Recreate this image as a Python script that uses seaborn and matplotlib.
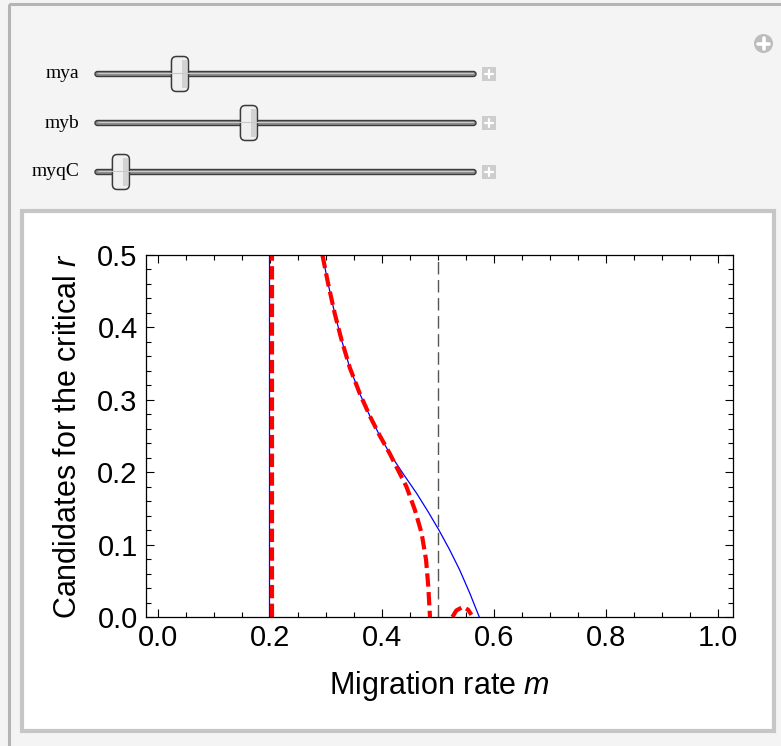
import numpy as np
import pandas as pd
import matplotlib.pyplot as plt
import seaborn as sns
from matplotlib.patches import Rectangle, FancyBboxPatch, Circle

# ---- control panel: slider names and thumb positions (fraction of track)
slider_names = ["mya", "myb", "myqC"]
slider_pos = [0.223, 0.404, 0.068]

# ---- curves
# solid blue: vertical root + decreasing branch
blue_vert_m = [0.198, 0.198]
blue_vert_r = [0.0, 0.5]
blue_m = [0.294, 0.304, 0.316, 0.328, 0.343, 0.361, 0.379, 0.396, 0.414,
          0.438, 0.462, 0.483, 0.502, 0.521, 0.539, 0.557, 0.574]
blue_r = [0.5, 0.461, 0.419, 0.383, 0.344, 0.308, 0.277, 0.251, 0.226,
          0.198, 0.171, 0.145, 0.120, 0.093, 0.065, 0.033, 0.0]

# dashed red: vertical root, main branch and small arc
red_vert_m = [0.204, 0.204]
red_vert_r = [0.0, 0.5]
red_m = [0.294, 0.304, 0.316, 0.328, 0.343, 0.361, 0.379, 0.396, 0.414,
         0.429, 0.444, 0.459, 0.471, 0.479, 0.483, 0.486]
red_r = [0.5, 0.461, 0.419, 0.383, 0.344, 0.308, 0.277, 0.251, 0.226,
         0.203, 0.180, 0.148, 0.116, 0.079, 0.042, 0.0]
arc_m = [0.526, 0.533, 0.545, 0.554, 0.560]
arc_r = [0.0, 0.009, 0.014, 0.010, 0.003]

m_ref = 0.5  # grey dashed reference line

sns.set_theme(style="ticks")
plt.rcParams['font.family'] = ['Liberation Sans', 'DejaVu Sans']
plt.rcParams['mathtext.fontset'] = 'custom'
plt.rcParams['mathtext.it'] = 'Liberation Sans:italic'
plt.rcParams['mathtext.rm'] = 'Liberation Sans'

W, H = 781, 746
fig = plt.figure(figsize=(W / 100, H / 100), dpi=100)
fig.patch.set_facecolor('#f4f4f4')

# background layer in pixel coordinates
bg = fig.add_axes([0, 0, 1, 1], zorder=-5)
bg.set_xlim(0, W)
bg.set_ylim(H, 0)
bg.axis('off')
bg.add_patch(Rectangle((8.5, 3.5), W, H, fill=False, ec='#b4b4b4', lw=2.2))
bg.add_patch(Rectangle((22, 210.5), 751.5, 520.5, fc='white', ec='#c6c6c6', lw=3))

track_x0, track_x1 = 95, 476
rows_y = [74, 123, 172]
for name, pos, y in zip(slider_names, slider_pos, rows_y):
    bg.text(79, y, name, ha='right', va='center', fontsize=14,
            family='Liberation Serif', color='black')
    bg.add_patch(FancyBboxPatch((track_x0, y - 2.5), track_x1 - track_x0, 5,
                                boxstyle='round,pad=0,rounding_size=2.5',
                                fc='#8c8c8c', ec='#3c3c3c', lw=1.0))
    bg.plot([track_x0 + 3, track_x1 - 3], [y - 0.8, y - 0.8], color='#c8c8c8', lw=0.8)
    cx = track_x0 + pos * (track_x1 - track_x0)
    bg.add_patch(FancyBboxPatch((cx - 8.5, y - 17.5), 17, 35,
                                boxstyle='round,pad=0,rounding_size=5',
                                fc='#f0f0f0', ec='#3a3a3a', lw=1.1))
    bg.add_patch(Rectangle((cx + 2, y - 14), 5, 28, fc='#d2d2d2', ec='none'))
    bg.add_patch(Rectangle((482, y - 7), 14, 14, fc='#cdcdcd', ec='none'))
    bg.plot([485, 493], [y, y], color='white', lw=1.6)
    bg.plot([489, 489], [y - 4, y + 4], color='white', lw=1.6)

bg.add_patch(Circle((763.5, 43.5), 9.5, fc='#bdbdbd', ec='none'))
bg.plot([758, 769], [43.5, 43.5], color='white', lw=2.6)
bg.plot([763.5, 763.5], [38, 49], color='white', lw=2.6)

# main plot
ax = fig.add_axes([146 / W, 1 - 617 / H, (733 - 146) / W, (617 - 255) / H])
ax.set_facecolor('white')

sns.lineplot(x=blue_vert_m, y=blue_vert_r, sort=False, estimator=None, ax=ax,
             color='#0000ff', lw=0.9)
sns.lineplot(x=blue_m, y=blue_r, sort=False, estimator=None, ax=ax,
             color='#0000ff', lw=0.9)
ax.axvline(m_ref, color='#555555', lw=1.0, linestyle=(0, (9, 4)))
red_dash = (0, (3.2, 1.3))
for xs, ys in [(red_vert_m, red_vert_r), (red_m, red_r), (arc_m, arc_r)]:
    sns.lineplot(x=xs, y=ys, sort=False, estimator=None, ax=ax,
                 color='#ff0000', lw=3.0, linestyle=red_dash)

ax.set_xlim(-0.021, 1.027)
ax.set_ylim(0, 0.5)
ax.set_xticks(np.arange(0, 1.01, 0.2))
ax.set_xticks(np.arange(0, 1.01, 0.05), minor=True)
ax.set_yticks(np.arange(0, 0.51, 0.1))
ax.set_yticks(np.arange(0, 0.51, 0.02), minor=True)
ax.set_xticklabels([f"{v:.1f}" for v in np.arange(0, 1.01, 0.2)])
ax.set_yticklabels([f"{v:.1f}" for v in np.arange(0, 0.51, 0.1)])
ax.tick_params(which='both', direction='in', top=True, right=True,
               labelsize=21, width=0.8, color='black', labelcolor='black')
ax.tick_params(which='major', length=6, pad=5)
ax.tick_params(which='minor', length=3.5)
ax.tick_params(axis='y', which='major', pad=6)
for sp in ax.spines.values():
    sp.set_color('black')
    sp.set_linewidth(0.9)

ax.set_xlabel("Migration rate $\\mathit{m}$", fontsize=22, color='black', labelpad=12)
ax.set_ylabel("Candidates for the critical $\\mathit{r}$", fontsize=22, color='black', labelpad=10)

fig.savefig('out.png', dpi=100, facecolor=fig.get_facecolor())
